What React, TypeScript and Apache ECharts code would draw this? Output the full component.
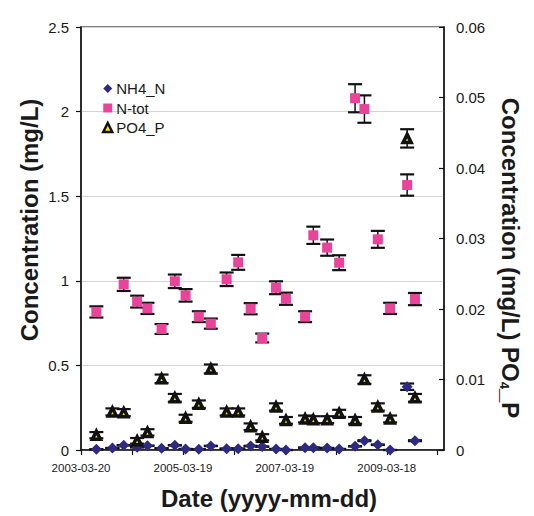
import React, { useEffect, useRef } from 'react';
import * as echarts from 'echarts';

// ---- data ----
const sampleDates = [
  '2003-07-08', '2003-10-31', '2004-01-20', '2004-04-25', '2004-07-08', '2004-10-17',
  '2005-01-20', '2005-04-07', '2005-07-11', '2005-10-05', '2006-01-26', '2006-04-19',
  '2006-07-17', '2006-10-08', '2007-01-15', '2007-03-27', '2007-08-11', '2007-10-09',
  '2008-01-16', '2008-04-11', '2008-08-03', '2008-10-09', '2009-01-13', '2009-04-11',
  '2009-08-11', '2009-10-06',
];
const nh4N = [
  0.004, 0.012, 0.028, 0.016, 0.025, 0.010, 0.028, 0.006, 0.004, 0.024, 0.008, 0.008, 0.024,
  0.020, 0.006, 0.0, 0.014, 0.014, 0.012, 0.006, 0.022, 0.055, 0.031, 0.0, 0.374, 0.055,
];
const nh4NErr = [
  0.0002, 0.0006, 0.0014, 0.0008, 0.0013, 0.0005, 0.0014, 0.0003, 0.0002, 0.0012, 0.0004, 0.0004, 0.0012,
  0.001, 0.0003, 0, 0.0007, 0.0007, 0.0006, 0.0003, 0.0011, 0.0028, 0.0016, 0, 0.019, 0.0028,
];
const nTot: (number | null)[] = [
  0.816, null, 0.979, 0.877, 0.837, 0.715, 0.997, 0.914, 0.788, 0.747, 1.009, 1.109, 0.835,
  0.662, 0.959, 0.894, 0.788, 1.269, 1.196, 1.107, 2.079, 2.015, 1.245, 0.837, 1.566, 0.892,
];
const nTotErr: (number | null)[] = [
  0.033, null, 0.039, 0.035, 0.033, 0.029, 0.040, 0.037, 0.032, 0.030, 0.040, 0.044, 0.033,
  0.026, 0.038, 0.036, 0.032, 0.051, 0.048, 0.044, 0.083, 0.081, 0.050, 0.033, 0.063, 0.036,
];
const po4P = [
  0.0021, 0.0054, 0.0053, 0.0013, 0.0025, 0.0101, 0.0074, 0.0045, 0.0065, 0.0115, 0.0054, 0.0054, 0.0033,
  0.0018, 0.0061, 0.0042, 0.0044, 0.0043, 0.0043, 0.0052, 0.0042, 0.0100, 0.0061, 0.0044, 0.0442, 0.0074,
];
const po4PErr = [
  0.00044, 0.0005, 0.0005, 0.0004, 0.00045, 0.0006, 0.00055, 0.0005, 0.00053, 0.00063, 0.0005, 0.0005, 0.00047,
  0.00044, 0.00052, 0.00048, 0.00049, 0.00049, 0.00049, 0.0005, 0.00048, 0.0006, 0.00052, 0.00049, 0.0013, 0.00055,
];
const xAxisStart = '2003-03-20';
const xLabelDates = ['2003-03-20', '2005-03-19', '2007-03-19', '2009-03-18'];
const xTickStepDays = 365;
const xTickCount = 8;
const xAxisSpanDays = 2600;
const leftTicks = [0, 0.5, 1, 1.5, 2, 2.5];
const rightTicks = [0, 0.01, 0.02, 0.03, 0.04, 0.05, 0.06];

const FONT = '"Liberation Sans", Arial, sans-serif';
const TEXT = '#1a1a1a';

const toUTC = (s: string) => {
  const [y, m, d] = s.split('-').map(Number);
  return Date.UTC(y, m - 1, d);
};
const dayOf = (s: string) => Math.round((toUTC(s) - toUTC(xAxisStart)) / 86400000);
const fmtDay = (v: number) => {
  const d = new Date(toUTC(xAxisStart) + v * 86400000);
  const p = (n: number) => String(n).padStart(2, '0');
  return `${d.getUTCFullYear()}-${p(d.getUTCMonth() + 1)}-${p(d.getUTCDate())}`;
};

const points = (vals: (number | null)[]) =>
  sampleDates
    .map((d, i) => (vals[i] == null ? null : [dayOf(d), vals[i] as number]))
    .filter((p) => p !== null) as number[][];
const errPoints = (vals: (number | null)[], errs: (number | null)[]) =>
  sampleDates
    .map((d, i) =>
      vals[i] == null ? null : [dayOf(d), (vals[i] as number) - (errs[i] as number), (vals[i] as number) + (errs[i] as number)]
    )
    .filter((p) => p !== null) as number[][];

const errRender = (_params: any, api: any) => {
  const x = api.value(0);
  const lo = api.coord([x, api.value(1)]);
  const hi = api.coord([x, api.value(2)]);
  const hw = 7;
  const cap = { stroke: '#111', lineWidth: 2.2, fill: 'none' };
  return {
    type: 'group',
    children: [
      { type: 'line', shape: { x1: lo[0], y1: lo[1], x2: hi[0], y2: hi[1] }, style: { stroke: '#111', lineWidth: 1.5 } },
      { type: 'line', shape: { x1: lo[0] - hw, y1: lo[1], x2: lo[0] + hw, y2: lo[1] }, style: cap },
      { type: 'line', shape: { x1: hi[0] - hw, y1: hi[1], x2: hi[0] + hw, y2: hi[1] }, style: cap },
    ],
  };
};

export default function App() {
  const ref = useRef<HTMLDivElement>(null);
  useEffect(() => {
    if (!ref.current) return;
    const chart = echarts.init(ref.current, undefined, { renderer: 'svg' });
    const tickValues = Array.from({ length: xTickCount }, (_, i) => i * xTickStepDays);
    const labelValues = xLabelDates.map(dayOf);
    const option: any = {
      animation: false,
      backgroundColor: '#fff',
      grid: {
        left: 81,
        right: 90,
        top: 27,
        bottom: 66,
        show: true,
        borderColor: '#555',
        borderWidth: 1.5,
        backgroundColor: 'transparent',
      },
      legend: {
        data: [
          { name: 'NH4_N' },
          { name: 'N-tot' },
          { name: 'PO4_P', itemStyle: { borderWidth: 2.5 } },
        ],
        orient: 'vertical',
        left: 102,
        top: 81,
        padding: 0,
        itemWidth: 9,
        itemHeight: 9,
        itemGap: 4.5,
        textStyle: { fontFamily: FONT, fontSize: 15, color: TEXT, padding: [0, 0, 0, -1] },
      },
      xAxis: {
        type: 'value',
        min: 0,
        max: xAxisSpanDays,
        interval: xTickStepDays,
        axisLine: { show: true, lineStyle: { color: '#111', width: 1.5 } },
        axisTick: { show: true, inside: false, length: 5, lineStyle: { color: '#111', width: 1.2 }, customValues: tickValues },
        axisLabel: {
          customValues: labelValues,
          margin: 12,
          fontFamily: FONT,
          fontSize: 11.5,
          color: TEXT,
          formatter: (v: number) => (labelValues.includes(Math.round(v)) ? fmtDay(v) : ''),
        },
        splitLine: { show: false },
      },
      yAxis: [
        {
          type: 'value',
          min: leftTicks[0],
          max: leftTicks[leftTicks.length - 1],
          interval: 0.5,
          position: 'left',
          axisLine: { show: true, lineStyle: { color: '#111', width: 1.5 } },
          axisTick: { show: true, inside: false, length: 5, lineStyle: { color: '#111', width: 1.2 } },
          axisLabel: { margin: 12, fontFamily: FONT, fontSize: 15, color: TEXT },
          splitLine: { show: true, lineStyle: { color: '#d4d4d4', width: 1 } },
        },
        {
          type: 'value',
          min: rightTicks[0],
          max: rightTicks[rightTicks.length - 1],
          interval: 0.01,
          position: 'right',
          axisLine: { show: true, lineStyle: { color: '#111', width: 1.5 } },
          axisTick: { show: true, inside: true, length: 5, lineStyle: { color: '#111', width: 1.2 } },
          axisLabel: { margin: 12, fontFamily: FONT, fontSize: 15, color: TEXT },
          splitLine: { show: false },
        },
      ],
      graphic: [
        {
          type: 'text',
          x: 29,
          y: 220,
          rotation: Math.PI / 2,
          style: {
            text: 'Concentration (mg/L)',
            fontFamily: FONT,
            fontSize: 24,
            fontWeight: 'bold',
            fill: TEXT,
            align: 'center',
            verticalAlign: 'middle',
          },
        },
        {
          type: 'text',
          x: 510,
          y: 258,
          rotation: -Math.PI / 2,
          style: {
            text: 'Concentration (mg/L) PO{sub|4}_P',
            fontFamily: FONT,
            fontSize: 24,
            fontWeight: 'bold',
            fill: TEXT,
            align: 'center',
            verticalAlign: 'middle',
            rich: {
              sub: { fontFamily: FONT, fontSize: 13, fontWeight: 'bold', fill: TEXT, verticalAlign: 'bottom', lineHeight: 8 },
            },
          },
        },
        {
          type: 'text',
          x: 269,
          y: 498,
          style: {
            text: 'Date (yyyy-mm-dd)',
            fontFamily: FONT,
            fontSize: 24,
            fontWeight: 'bold',
            fill: TEXT,
            align: 'center',
            verticalAlign: 'middle',
          },
        },
      ],
      series: [
        {
          type: 'custom',
          yAxisIndex: 0,
          renderItem: errRender,
          data: errPoints(nTot, nTotErr),
          encode: { x: 0, y: [1, 2] },
          z: 2,
          silent: true,
        },
        {
          type: 'custom',
          yAxisIndex: 1,
          renderItem: errRender,
          data: errPoints(po4P, po4PErr),
          encode: { x: 0, y: [1, 2] },
          z: 2,
          silent: true,
        },
        {
          type: 'custom',
          yAxisIndex: 0,
          renderItem: errRender,
          data: errPoints(nh4N, nh4NErr),
          encode: { x: 0, y: [1, 2] },
          z: 2,
          silent: true,
        },
        {
          name: 'NH4_N',
          type: 'scatter',
          yAxisIndex: 0,
          symbol: 'diamond',
          symbolSize: 11,
          itemStyle: { color: '#2d2a82', opacity: 1 },
          data: points(nh4N),
          z: 4,
        },
        {
          name: 'N-tot',
          type: 'scatter',
          yAxisIndex: 0,
          symbol: 'rect',
          symbolSize: 10,
          itemStyle: { color: '#e8449a', opacity: 1 },
          data: points(nTot),
          z: 4,
        },
        {
          name: 'PO4_P',
          type: 'scatter',
          yAxisIndex: 1,
          symbol: 'triangle',
          symbolSize: 8,
          itemStyle: { color: '#ffe600', borderColor: '#111', borderWidth: 3.5, opacity: 1 },
          data: points(po4P),
          z: 4,
        },
      ],
    };
    chart.setOption(option);
    return () => chart.dispose();
  }, []);
  return (
    <div
      ref={ref}
      style={{ position: 'fixed', left: 0, top: 0, width: 534, height: 516, background: '#fff' }}
    />
  );
}
